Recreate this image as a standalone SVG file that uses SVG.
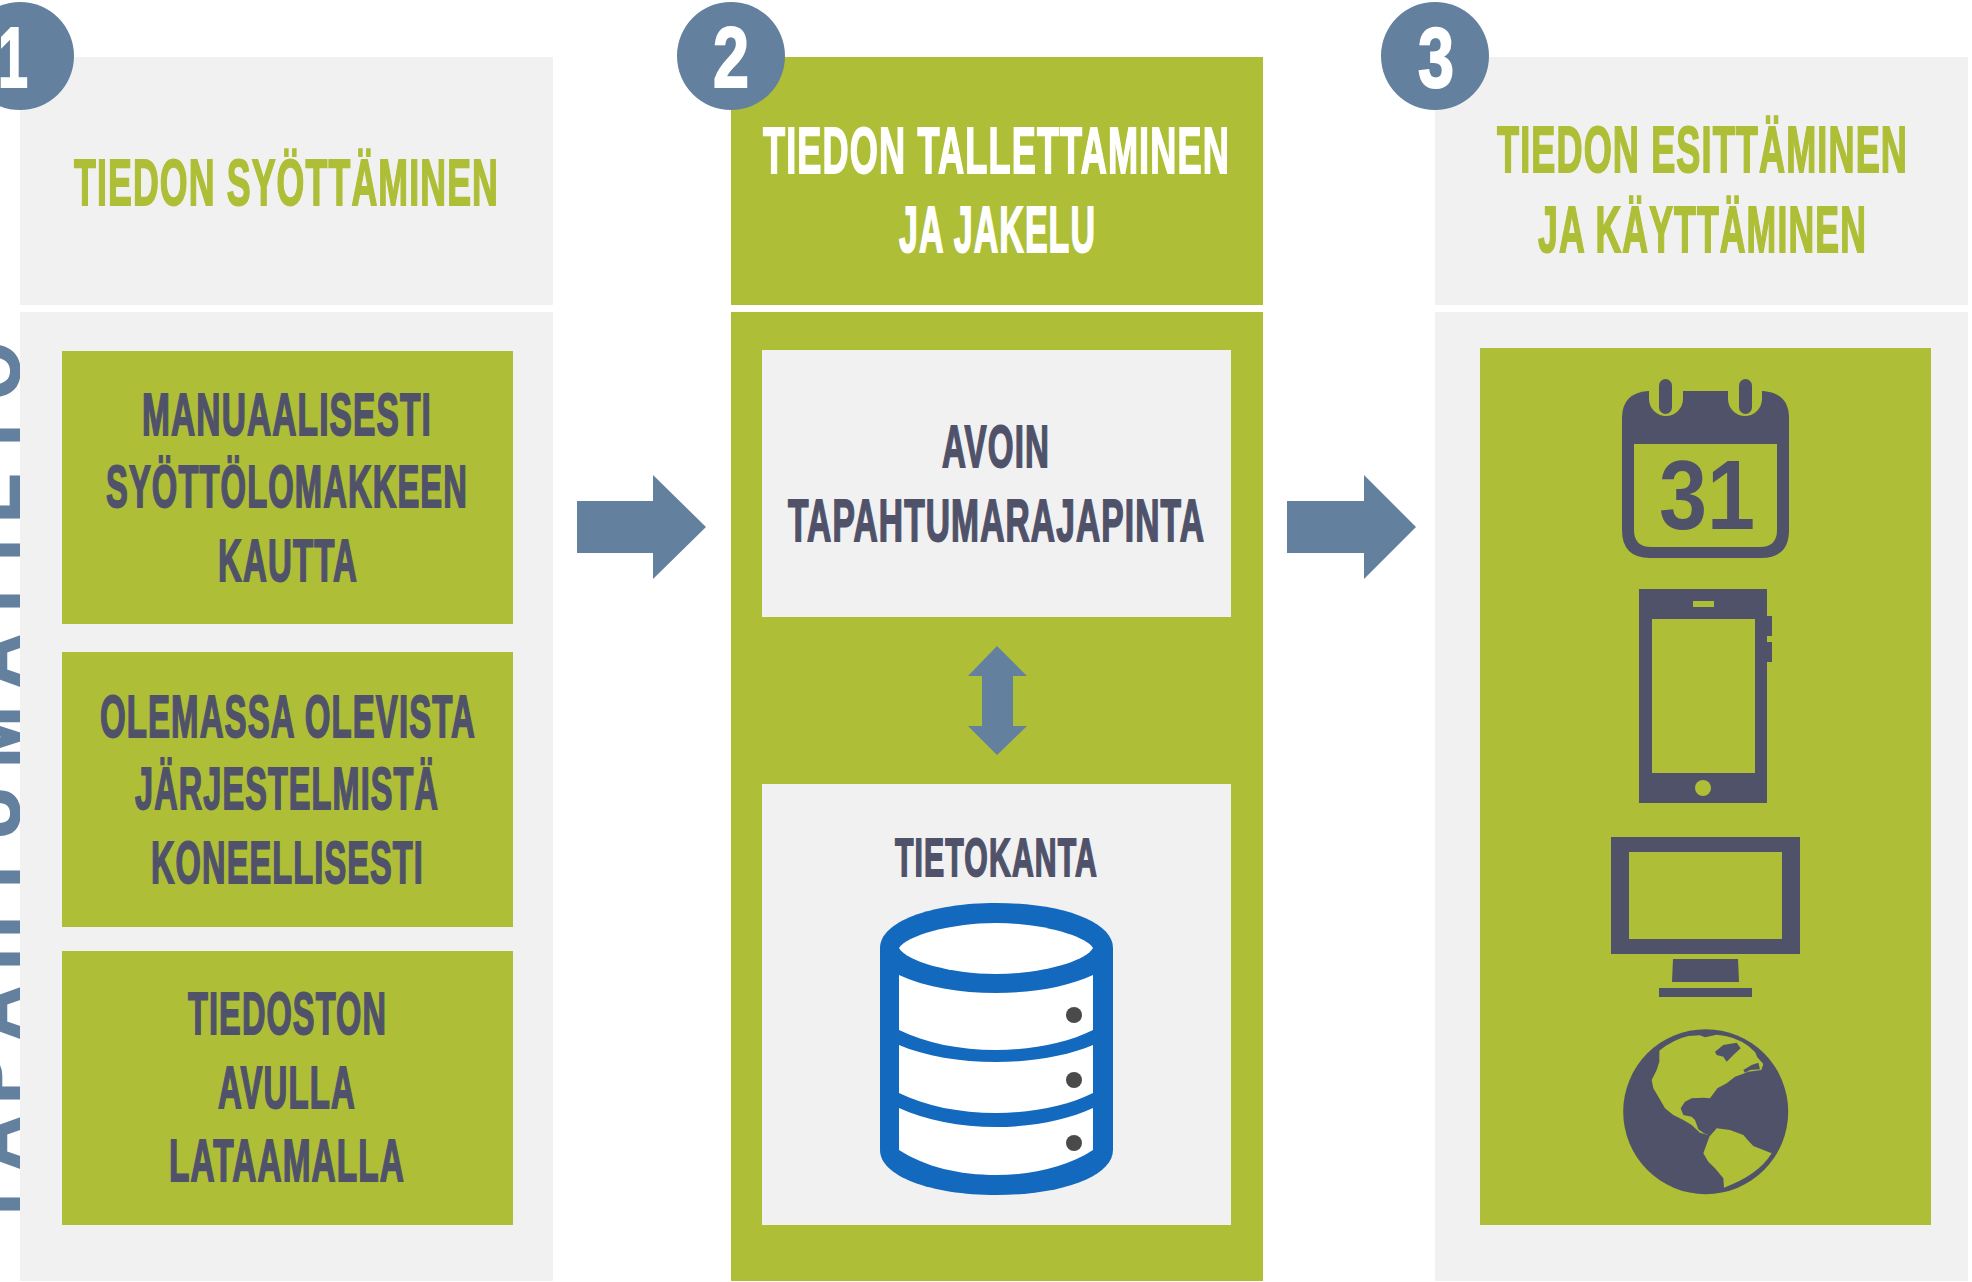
<svg xmlns="http://www.w3.org/2000/svg" width="1972" height="1282" viewBox="0 0 1972 1282">
<style>
.g{fill:#aebe36}.l{fill:#f1f1f2}.d{fill:#50526a}.b{fill:#64809f}.w{fill:#fff}.n{fill:#1269be}
text{font-family:"Liberation Sans Narrow","Liberation Sans",Arial,sans-serif;font-weight:700}
.hd{font-size:65px;stroke-width:1.800px;letter-spacing:2px}
.bx{font-size:59px;stroke-width:1.800px;letter-spacing:2px}
.tg{fill:#aebe36;stroke:#aebe36}.tw{fill:#fff;stroke:#fff}.td{fill:#50526a;stroke:#50526a}
.num{font-size:85px;fill:#fff;stroke:#fff;stroke-width:2px}
</style>
<rect width="1972" height="1282" fill="#fff"/>
<g id="side-label">
<text style="font-family:'Liberation Sans',Arial,sans-serif;font-size:72px" class="b" stroke="#64809f" stroke-width="2.500" text-anchor="middle" transform="translate(19,1282) rotate(-90)" x="78 139 203 269 339 405 469 545 621 681 732 784 847 911">TAPAHTUMATIETO</text>
</g>
<g id="panel-1">
<rect class="l" x="20" y="57" width="533" height="248"/>
<rect class="l" x="20" y="312" width="533" height="969"/>
<text class="hd tg" transform="translate(74 205) scale(.6 1)" textLength="708.330" lengthAdjust="spacingAndGlyphs">TIEDON SYÖTTÄMINEN</text>
</g>
<g id="box-manual">
<rect class="g" x="62" y="351" width="451" height="273"/>
<text class="bx td" transform="translate(142 435) scale(.6 1)" textLength="483.330" lengthAdjust="spacingAndGlyphs">MANUAALISESTI</text>
<text class="bx td" transform="translate(106 507) scale(.6 1)" textLength="603.330" lengthAdjust="spacingAndGlyphs">SYÖTTÖLOMAKKEEN</text>
<text class="bx td" transform="translate(218 581) scale(.6 1)" textLength="233.330" lengthAdjust="spacingAndGlyphs">KAUTTA</text>
</g>
<g id="box-systems">
<rect class="g" x="62" y="652" width="451" height="275"/>
<text class="bx td" transform="translate(100 737) scale(.6 1)" textLength="626.670" lengthAdjust="spacingAndGlyphs">OLEMASSA OLEVISTA</text>
<text class="bx td" transform="translate(135 809) scale(.6 1)" textLength="506.670" lengthAdjust="spacingAndGlyphs">JÄRJESTELMISTÄ</text>
<text class="bx td" transform="translate(151 883) scale(.6 1)" textLength="455" lengthAdjust="spacingAndGlyphs">KONEELLISESTI</text>
</g>
<g id="box-file">
<rect class="g" x="62" y="951" width="451" height="274"/>
<text class="bx td" transform="translate(188 1034) scale(.6 1)" textLength="331.670" lengthAdjust="spacingAndGlyphs">TIEDOSTON</text>
<text class="bx td" transform="translate(218 1108) scale(.6 1)" textLength="230" lengthAdjust="spacingAndGlyphs">AVULLA</text>
<text class="bx td" transform="translate(169 1181) scale(.6 1)" textLength="393.330" lengthAdjust="spacingAndGlyphs">LATAAMALLA</text>
</g>
<g id="panel-2">
<rect class="g" x="731" y="57" width="532" height="248"/>
<rect class="g" x="731" y="312" width="532" height="969"/>
<text class="hd tw" transform="translate(763 173) scale(.6 1)" textLength="778.330" lengthAdjust="spacingAndGlyphs">TIEDON TALLETTAMINEN</text>
<text class="hd tw" transform="translate(899 252) scale(.6 1)" textLength="328.330" lengthAdjust="spacingAndGlyphs">JA JAKELU</text>
</g>
<g id="box-api">
<rect class="l" x="762" y="350" width="469" height="267"/>
<text class="bx td" transform="translate(942 467) scale(.6 1)" textLength="180" lengthAdjust="spacingAndGlyphs">AVOIN</text>
<text class="bx td" transform="translate(788 541) scale(.6 1)" textLength="695" lengthAdjust="spacingAndGlyphs">TAPAHTUMARAJAPINTA</text>
</g>
<g id="box-database">
<rect class="l" x="762" y="784" width="469" height="441"/>
<text class="bx td" style="font-size:54px" transform="translate(895 876) scale(.6 1)" textLength="338.330" lengthAdjust="spacingAndGlyphs">TIETOKANTA</text>
<path class="n" d="M880 948C880 922 930 903 996.500 903S1113 922 1113 948V1150C1113 1176 1063 1195 996.500 1195S880 1176 880 1150Z"/>
<path class="w" d="M899 948C906 936 950 923 996 923S1086 936 1093 948C1086 961 1042 974 996 974S906 961 899 948Z"/>
<path class="w" d="M899 975C925 987 960 993 996 993S1067 987 1093 975V1030C1067 1043 1032 1050 996 1050S925 1043 899 1030Z"/>
<path class="w" d="M899 1045C925 1056 960 1062 996 1062S1067 1056 1093 1045V1093C1067 1106 1032 1113 996 1113S925 1106 899 1093Z"/>
<path class="w" d="M899 1108C925 1120 960 1127 996 1127S1067 1120 1093 1108V1150C1067 1167 1032 1175 996 1175S925 1167 899 1150Z"/>
<circle cx="1074" cy="1015" r="8" fill="#4a4a4a"/>
<circle cx="1074" cy="1080" r="8" fill="#4a4a4a"/>
<circle cx="1074" cy="1143" r="8" fill="#4a4a4a"/>
</g>
<g id="panel-3">
<rect class="l" x="1435" y="57" width="533" height="248"/>
<rect class="l" x="1435" y="312" width="533" height="969"/>
<text class="hd tg" transform="translate(1497 172) scale(.6 1)" textLength="685" lengthAdjust="spacingAndGlyphs">TIEDON ESITTÄMINEN</text>
<text class="hd tg" transform="translate(1538 252) scale(.6 1)" textLength="548.330" lengthAdjust="spacingAndGlyphs">JA KÄYTTÄMINEN</text>
<rect class="g" x="1480" y="348" width="451" height="877"/>
</g>
<g id="icon-calendar">
<path class="d" fill-rule="evenodd" d="M1648 391H1763Q1789 393 1789 418V530Q1789 558 1761 558H1650Q1622 558 1622 530V418Q1622 393 1648 391ZM1634 444V530Q1634 547 1651 547H1760Q1777 547 1777 530V444Z"/>
<circle class="g" cx="1666" cy="399" r="17"/><circle class="g" cx="1745" cy="399" r="17"/>
<rect class="g" x="1649" y="380" width="34" height="19"/><rect class="g" x="1728" y="380" width="34" height="19"/>
<rect class="d" x="1659" y="379" width="13" height="35" rx="6.500"/><rect class="d" x="1739" y="379" width="13" height="35" rx="6.500"/>
<text x="1659" y="529" textLength="96" lengthAdjust="spacingAndGlyphs" style="font-family:'Liberation Sans',Arial,sans-serif;font-size:98px" class="d">31</text>
</g>
<g id="icon-phone">
<rect class="d" x="1639" y="589" width="128" height="214"/>
<rect class="d" x="1767" y="616" width="5" height="20"/><rect class="d" x="1767" y="642" width="5" height="20"/>
<rect class="g" x="1652" y="619" width="103" height="154"/>
<rect class="g" x="1693" y="601" width="21" height="6"/>
<circle class="g" cx="1703" cy="788" r="8"/>
</g>
<g id="icon-monitor">
<rect class="d" x="1611" y="837" width="189" height="117"/>
<rect class="g" x="1629" y="852" width="153" height="87"/>
<path class="d" d="M1673 959H1738L1739 982H1672Z"/>
<rect class="d" x="1659" y="988" width="93" height="9"/>
</g>
<g id="icon-globe">
<circle class="d" cx="1705.700" cy="1111.700" r="82.500"/>
<g transform="translate(1620 1020) scale(.33333)" class="g">
<path d="M118 92Q160 58 205 48L240 46 255 52 290 44Q345 48 385 78L405 96 412 112 430 132 424 150 385 155 368 162 345 170 320 190 292 205 270 235 250 233 215 235 195 245 182 265 190 285 215 290 225 300 235 328 252 340 268 346 240 338 215 315 190 300 160 285 135 265 115 230 100 205 95 180 110 150 118 125Z"/>
<path d="M290 325L330 330 370 345 385 362 400 378 455 400Q415 465 312 503L310 475 285 445 265 425 250 400 268 350Z"/>
<path class="d" d="M285 95L310 75 350 68 362 85 340 105 320 125 310 110 290 105ZM370 150L395 135 415 128 420 148 390 150 375 158Z"/>
<path d="M110 228L125 262" fill="none" stroke="#50526a" stroke-width="4"/>
</g>
</g>
<g id="connectors">
<path class="b" d="M577 501H653V475L706 527 653 579V553H577Z"/>
<path class="b" d="M1287 501H1364V475L1416 527 1364 579V553H1287Z"/>
<path class="b" d="M997 646L1027 676H1013V726H1027L997 755 968 726H982V676H968Z"/>
</g>
<g id="badge-1"><circle class="b" cx="20" cy="56" r="54"/><text class="num" x="-2" y="87" textLength="30" lengthAdjust="spacingAndGlyphs">1</text></g>
<g id="badge-2"><circle class="b" cx="731" cy="56" r="54"/><text class="num" x="713" y="87" textLength="36" lengthAdjust="spacingAndGlyphs">2</text></g>
<g id="badge-3"><circle class="b" cx="1435" cy="56" r="54"/><text class="num" x="1418" y="87" textLength="36" lengthAdjust="spacingAndGlyphs">3</text></g>
</svg>
